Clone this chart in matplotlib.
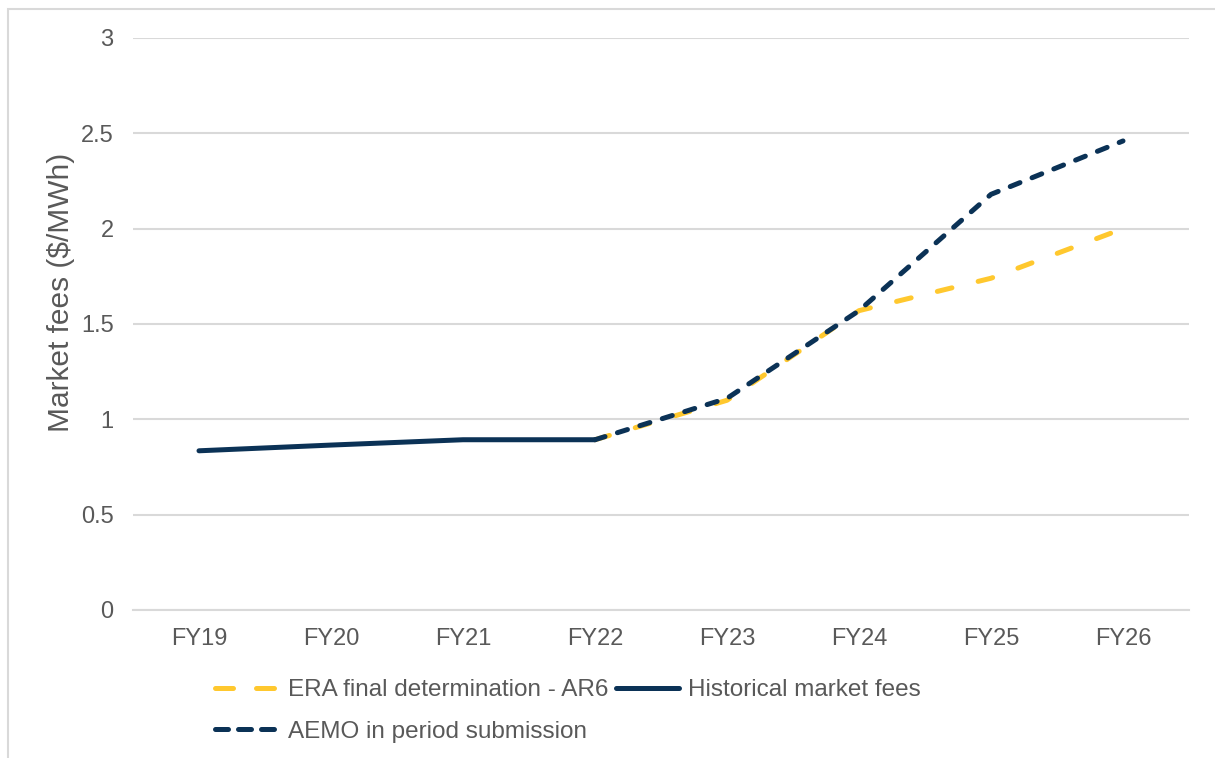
import matplotlib
matplotlib.use("Agg")
import matplotlib.pyplot as plt
from matplotlib.patches import Rectangle
from matplotlib.lines import Line2D

plt.rcParams['font.family'] = ['Liberation Sans', 'DejaVu Sans']

categories = ["FY19", "FY20", "FY21", "FY22", "FY23", "FY24", "FY25", "FY26"]
historical = [0.835, 0.865, 0.893, 0.893, None, None, None, None]
era_ar6 = [None, None, None, 0.893, 1.10, 1.57, 1.74, 2.00]
aemo = [None, None, None, 0.893, 1.11, 1.57, 2.18, 2.46]

YELLOW = "#FFC82E"
NAVY = "#0B3256"
GRID = "#D9D9D9"
TEXT = "#595959"

W, H = 1215, 758
fig = plt.figure(figsize=(W / 100, H / 100), dpi=100)
ax = fig.add_axes([133 / W, 1 - 610 / H, (1189 - 133) / W, (610 - 38) / H])

# outer frame (partially off-canvas)
fig.patches.append(Rectangle((8 / W, -0.05), 1.1, 1 - 9 / H + 0.05, transform=fig.transFigure,
                             fill=False, edgecolor=GRID, linewidth=1.5, zorder=0))

x = list(range(len(categories)))

def pts(vals):
    xs = [i for i, v in zip(x, vals) if v is not None]
    ys = [v for v in vals if v is not None]
    return xs, ys

lw = 3.6
ex, ey = pts(era_ar6)
l_era, = ax.plot(ex, ey, color=YELLOW, lw=lw, solid_capstyle='round', dash_capstyle='round',
                 zorder=3)
l_era.set_dashes((3.0, 5.4))
hx, hy = pts(historical)
l_hist, = ax.plot(hx, hy, color=NAVY, lw=lw, solid_capstyle='round', zorder=4)
axs, ays = pts(aemo)
l_aemo, = ax.plot(axs, ays, color=NAVY, lw=lw, dash_capstyle='round', zorder=5)
l_aemo.set_dashes((2.1, 2.6))

ax.set_xlim(-0.5, len(categories) - 0.5)
ax.set_ylim(0, 3)
ax.set_yticks([0, 0.5, 1, 1.5, 2, 2.5, 3])
ax.set_yticklabels(["0", "0.5", "1", "1.5", "2", "2.5", "3"])
ax.set_xticks(x)
ax.set_xticklabels(categories)
ax.grid(axis='y', color=GRID, linewidth=1.5, zorder=0)
ax.set_axisbelow(True)
for s in ['top', 'right', 'left']:
    ax.spines[s].set_visible(False)
ax.spines['bottom'].set_color(GRID)
ax.spines['bottom'].set_linewidth(1.5)
ax.tick_params(axis='both', length=0, labelsize=17, labelcolor=TEXT)
ax.tick_params(axis='y', pad=14)
ax.tick_params(axis='x', pad=13)

fig.text(61 / W, 1 - 292 / H, "Market fees ($/MWh)", rotation=90, ha='center', va='center',
         fontsize=21.5, color=TEXT)

h_era = Line2D([], [], color=YELLOW, lw=lw, dash_capstyle='round')
h_era.set_dashes((3.6, 4.6))
h_hist = Line2D([], [], color=NAVY, lw=lw, solid_capstyle='round')
h_aemo = Line2D([], [], color=NAVY, lw=lw, dash_capstyle='round')
h_aemo.set_dashes((2.6, 2.0))

leg = fig.legend([h_era, h_aemo, h_hist],
                 ["ERA final determination - AR6", "AEMO in period submission", "Historical market fees"],
                 ncol=2, loc='center left', bbox_to_anchor=(215 / W, 1 - 711 / H),
                 frameon=False, fontsize=17.5, labelcolor=TEXT, handlelength=2.6,
                 handletextpad=0.4, columnspacing=0.3, labelspacing=0.8, borderpad=0, borderaxespad=0)

fig.savefig("out.png", dpi=100, facecolor='white')
